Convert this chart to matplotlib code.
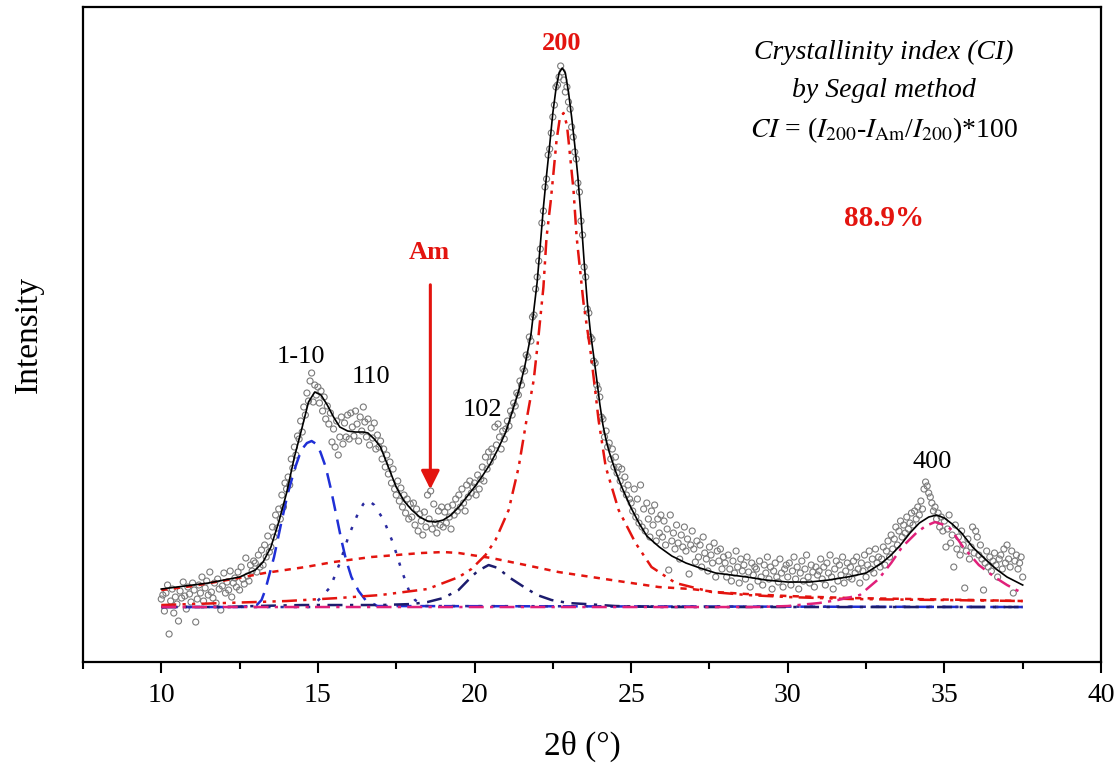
import numpy as np
import matplotlib
matplotlib.use("Agg")
import matplotlib.pyplot as plt
from matplotlib.ticker import MultipleLocator

plt.rcParams['font.family'] = ['Liberation Serif', 'DejaVu Serif']
plt.rcParams['mathtext.fontset'] = 'stix'

# measured pattern, 2theta step 0.05 starting at 10.00
scan_start = 10.0
scan_step = 0.05
counts = [
    8, 12, -4, 14, 22, -27, 6, 18, -6, 10, 3, -14, 16, 9, 25, 11, -2, 20, 13, 5,
    24, 17, -15, 8, 22, 14, 30, 6, 19, 26, 12, 35, 15, 9, 24, 4, 28, 18, -3, 21,
    34, 14, 25, 17, 36, 10, 24, 29, 20, 35, 17, 40, 28, 23, 49, 31, 26, 42, 36, 46,
    44, 35, 52, 40, 57, 42, 62, 50, 71, 55, 60, 80, 70, 92, 79, 98, 88, 112, 100, 124,
    118, 130, 122, 148, 139, 160, 152, 171, 168, 186, 175, 200, 192, 214, 206, 226, 234, 205, 222, 212,
    220, 204, 216, 196, 210, 188, 201, 183, 194, 165, 178, 160, 186, 152, 170, 190, 163, 184, 170, 192,
    168, 194, 180, 171, 196, 183, 166, 190, 176, 200, 185, 170, 188, 162, 179, 169, 184, 158, 172, 160,
    166, 148, 158, 140, 152, 133, 145, 124, 138, 118, 112, 126, 106, 119, 100, 112, 94, 108, 88, 103,
    90, 104, 82, 98, 76, 93, 86, 72, 95, 80, 112, 88, 116, 78, 103, 84, 74, 96, 82, 100,
    80, 95, 84, 100, 90, 78, 102, 92, 108, 96, 112, 100, 118, 104, 96, 122, 110, 126, 114, 120,
    124, 112, 132, 118, 128, 140, 126, 150, 138, 155, 145, 158, 150, 180, 162, 183, 170, 158, 176, 168,
    178, 186, 181, 196, 192, 204, 201, 214, 212, 226, 222, 238, 236, 252, 250, 270, 266, 290, 292, 318,
    330, 346, 358, 384, 396, 420, 428, 452, 458, 474, 490, 502, 520, 522, 530, 541, 535, 527, 515, 520,
    505, 498, 480, 470, 455, 448, 424, 415, 386, 372, 340, 330, 298, 294, 270, 268, 246, 244, 222, 218,
    210, 190, 188, 170, 176, 160, 164, 148, 158, 140, 150, 134, 140, 126, 138, 118, 130, 112, 122, 108,
    104, 96, 118, 90, 108, 84, 122, 80, 98, 76, 104, 88, 70, 96, 82, 102, 66, 88, 74, 92,
    70, 86, 62, 78, 37, 92, 66, 74, 58, 82, 64, 48, 72, 60, 80, 56, 68, 33, 62, 76,
    58, 45, 66, 50, 62, 40, 70, 54, 48, 36, 60, 52, 44, 64, 30, 56, 46, 58, 38, 50,
    44, 30, 52, 38, 26, 46, 34, 56, 40, 24, 48, 36, 42, 28, 50, 35, 20, 44, 32, 40,
    38, 26, 46, 30, 22, 42, 34, 50, 28, 40, 18, 36, 44, 30, 25, 48, 34, 20, 38, 42,
    30, 44, 22, 36, 50, 28, 40, 18, 34, 46, 26, 38, 52, 30, 24, 42, 35, 20, 40, 32,
    36, 48, 28, 40, 22, 44, 34, 52, 30, 18, 38, 46, 26, 42, 32, 50, 24, 36, 44, 30,
    40, 28, 46, 34, 50, 38, 24, 44, 36, 52, 30, 42, 56, 38, 48, 34, 58, 44, 50, 40,
    48, 60, 42, 56, 66, 50, 72, 58, 68, 80, 62, 76, 86, 70, 82, 74, 90, 78, 84, 94,
    82, 96, 88, 100, 92, 106, 98, 118, 125, 121, 114, 110, 104, 96, 100, 88, 94, 80, 90, 76,
    86, 60, 78, 92, 64, 72, 40, 82, 58, 70, 52, 76, 62, 19, 56, 68, 48, 60, 80, 54,
    76, 70, 52, 62, 48, 17, 44, 56, 40, 50, 36, 46, 54, 42, 30, 48, 52, 38, 58, 44,
    62, 48, 40, 56, 14, 46, 52, 38, 44, 50, 30,
]

# cumulative fit
fit_x = [10.0, 10.5, 11.0, 11.5, 12.0, 12.5, 13.0, 13.25, 13.5, 13.75, 14.0, 14.25, 14.5, 14.7,
         14.9, 15.1, 15.3, 15.5, 15.7, 15.95, 16.2, 16.45, 16.6, 16.8, 17.0, 17.25, 17.5, 17.75,
         18.0, 18.25, 18.5, 18.75, 19.0, 19.25, 19.5, 19.75, 20.0, 20.25, 20.5, 20.75, 21.0, 21.2,
         21.4, 21.6, 21.8, 22.0, 22.1, 22.2, 22.3, 22.4, 22.5, 22.6, 22.7, 22.8, 22.9, 23.0, 23.1,
         23.2, 23.3, 23.4, 23.5, 23.6, 23.7, 23.8, 23.9, 24.0, 24.1, 24.2, 24.3, 24.5, 24.7, 25.0,
         25.25, 25.5, 25.9, 26.3, 26.75, 27.2, 27.7, 28.2, 28.7, 29.3, 30.0, 30.7, 31.3, 31.9,
         32.5, 33.0, 33.3, 33.6, 33.9, 34.2, 34.5, 34.75, 35.0, 35.25, 35.55, 35.9, 36.3, 36.65,
         37.0, 37.5]
fit_y = [18, 20, 22, 24, 27, 30, 37, 45, 60, 85, 114, 150, 180, 205,
         215, 212, 202, 190, 180, 176, 175, 175, 174, 168, 160, 140, 120, 106,
         97, 90, 86, 85, 87, 92, 100, 110, 120, 131, 143, 158, 175, 195,
         215, 240, 272, 325, 362, 400, 432, 462, 494, 518, 534, 539, 534, 515, 490,
         462, 430, 390, 345, 305, 275, 252, 228, 203, 182, 167, 155, 136, 120, 99,
         84, 71, 60, 51, 44, 39, 34, 32, 30, 27, 25, 25, 27, 30,
         34, 44, 52, 62, 74, 84, 90, 92, 89, 83, 74, 60, 48, 38,
         30, 22]

# deconvoluted peaks
p1_10_x = [10, 12.5, 13.05, 13.2, 13.32, 13.6, 13.85, 14.05, 14.28, 14.47, 14.65, 14.8, 14.95,
           15.08, 15.25, 15.4, 15.58, 15.75, 15.9, 16.07, 16.3, 16.52, 16.9, 37.5]
p1_10_y = [0, 0, 2, 7, 17, 50, 87, 115, 140, 157, 164, 166, 163,
           155, 140, 120, 93, 67, 47, 30, 16, 7, 1, 0]

p110_x = [10, 14.8, 15.08, 15.4, 15.7, 15.97, 16.15, 16.3, 16.45, 16.6, 16.8, 17.1, 17.4,
          17.67, 17.9, 18.1, 18.4, 37.5]
p110_y = [0, 0, 9, 20, 44, 70, 84, 95, 103, 107, 102, 87, 64, 37, 17, 7, 1, 0]

am_x = [10, 11, 12.46, 13.3, 14.6, 15.5, 16.7, 17.5, 18.3, 19.0, 19.5, 19.9, 20.54, 21.63,
        22.68, 23.74, 24.8, 25.88, 26.93, 27.7, 28.7, 30, 32, 34, 36, 37.5]
am_y = [17, 21, 29, 34, 40, 45, 50, 52, 54, 55, 54, 52, 49, 42,
        35, 30, 25, 20, 18, 15, 13, 11, 9, 8, 7, 6]

p102_x = [10, 12.0, 13.0, 14.5, 16.0, 17.0, 18.0, 18.5, 19.0, 19.49, 19.8, 20.1, 20.45, 20.75,
          21.09, 21.63, 22.0, 22.46, 23.0, 23.55, 24.5, 26, 37.5]
p102_y = [0, 0, 1, 2, 2, 2, 3, 5, 9, 17, 27, 36, 42, 39, 30, 19, 12, 7, 4, 3, 1, 0, 0]

p200_x = [10, 12, 14, 15.65, 17, 18.5, 19.5, 19.9, 20.35, 20.67, 21.09, 21.41, 21.66, 21.89,
          22.04, 22.2, 22.3, 22.43, 22.52, 22.62, 22.72, 22.84, 22.95, 23.0, 23.16, 23.26, 23.48,
          23.71, 23.87, 23.96, 24.19, 24.6, 25.14, 25.65, 26.42, 27.57, 28.7, 30, 32, 35, 37.5]
p200_y = [2, 4, 6, 9, 12, 18, 30, 38, 52, 67, 97, 140, 187, 227,
          270, 320, 370, 405, 434, 467, 488, 494, 482, 467, 417, 370, 304,
          254, 212, 187, 140, 97, 64, 40, 24, 15, 12, 10, 8, 7, 6]

p400_x = [10, 29, 30, 31.0, 31.6, 32.3, 32.9, 33.3, 33.65, 34.1, 34.4, 34.7, 35.0, 35.2, 35.6,
          36.1, 36.6, 37.0, 37.3, 37.5]
p400_y = [0, 0, 1, 4, 7, 12, 28, 44, 60, 74, 81, 85, 82, 78, 60, 42, 30, 22, 17, 14]

RED = '#e3140f'

fig = plt.figure(figsize=(11.18, 7.69), dpi=100)
ax = fig.add_axes([0.0742, 0.1391, 0.9106, 0.8518])

two_theta = scan_start + scan_step * np.arange(len(counts))
ax.scatter(two_theta, counts, s=19, facecolors='none', edgecolors='#7a7a7a',
           linewidths=0.8, zorder=2)

ax.plot(p1_10_x, p1_10_y, color='#1f2fd6', lw=1.8, dashes=(6, 3.5), zorder=3)
ax.plot(p110_x, p110_y, color='#2a2aa0', lw=1.8, dashes=(1.3, 4), zorder=3)
ax.plot(am_x, am_y, color=RED, lw=1.8, dashes=(2.5, 2.5), zorder=3)
ax.plot(p102_x, p102_y, color='#1c1c6e', lw=1.8, dashes=(6, 3, 1.3, 3), zorder=3)
ax.plot(p200_x, p200_y, color=RED, lw=1.8, dashes=(6, 2.5, 1.3, 2.5, 1.3, 2.5), zorder=3)
ax.plot(p400_x, p400_y, color='#e0207a', lw=1.8, dashes=(6, 2.5, 1.3, 2.5), zorder=3)
ax.plot(fit_x, fit_y, color='black', lw=1.2, zorder=4)

# peak labels
ax.text(14.47, 250, '1-10', fontsize=19, ha='center', va='center')
ax.text(16.71, 230, '110', fontsize=19, ha='center', va='center')
ax.text(20.26, 197, '102', fontsize=19, ha='center', va='center')
ax.text(34.6, 145, '400', fontsize=19, ha='center', va='center')
ax.text(22.78, 563, '200', fontsize=19, ha='center', va='center', color=RED, fontweight='bold')
ax.text(18.56, 355, 'Am', fontsize=19, ha='center', va='center', color=RED, fontweight='bold')
ax.annotate('', xy=(18.59, 115), xytext=(18.59, 325),
            arrowprops=dict(arrowstyle='-|>', color=RED, lw=2.2, mutation_scale=28))

ax.text(33.07, 555, 'Crystallinity index (CI)', fontsize=20, style='italic',
        ha='center', va='center')
ax.text(33.07, 517, 'by Segal method', fontsize=20, style='italic',
        ha='center', va='center')
ax.text(33.07, 477, r'$CI$ = ($I_{200}$-$I_{\mathrm{Am}}$/$I_{200}$)*100', fontsize=20,
        ha='center', va='center')
ax.text(33.07, 389, '88.9%', fontsize=21, ha='center', va='center', color=RED,
        fontweight='bold')

ax.set_xlim(7.5, 40)
ax.set_ylim(-55, 600)
ax.xaxis.set_major_locator(MultipleLocator(5))
ax.xaxis.set_minor_locator(MultipleLocator(2.5))
ax.set_yticks([])
ax.tick_params(axis='x', which='major', direction='out', length=8, width=1.5,
               labelsize=20, pad=7, top=False)
ax.tick_params(axis='x', which='minor', direction='out', length=5, width=1.5, top=False)
for s in ax.spines.values():
    s.set_linewidth(1.6)

ax.set_xlabel('2θ (°)', fontsize=24, labelpad=16)
ax.xaxis.set_label_coords(0.491, -0.105)
ax.set_ylabel('Intensity', fontsize=24, labelpad=28)

fig.savefig('out.png', dpi=100)
